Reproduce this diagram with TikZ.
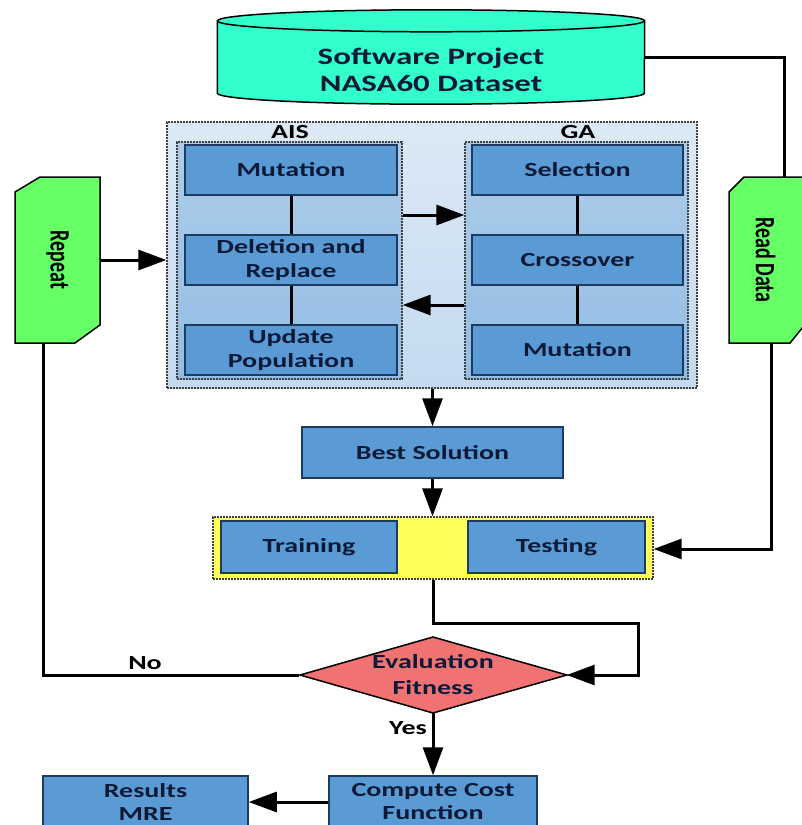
\documentclass[tikz,border=0pt]{standalone}
\usepackage{fontspec}
\setmainfont{Carlito}[FakeStretch=1.4]
\newfontfamily\plainfont{Carlito}
\usetikzlibrary{arrows.meta}
\definecolor{boxblue}{HTML}{5B9BD5}
\definecolor{boxedge}{HTML}{1F3A5F}
\definecolor{txt}{HTML}{0C1A38}
\definecolor{aqua}{HTML}{33FFCC}
\definecolor{lgreen}{HTML}{66FF66}
\definecolor{salmon}{HTML}{F07272}
\definecolor{yel}{HTML}{FFFF5A}
\definecolor{outertop}{HTML}{DCE9F6}
\definecolor{outerbot}{HTML}{C4DAEF}
\definecolor{innertop}{HTML}{ADCDEA}
\definecolor{innerbot}{HTML}{93BDE4}
\begin{document}
\begin{tikzpicture}[x=1pt,y=-1pt,
  box/.style={draw=boxedge, line width=1.5pt, fill=boxblue, text=txt,
    font=\bfseries\fontsize{20}{24}\selectfont, align=center, inner sep=0pt},
  conn/.style={line width=3pt, draw=black},
  arr/.style={conn, -{Triangle[length=28pt,width=20pt]}},
  grp/.style={draw=black!75, dash pattern=on 2pt off 1pt, line width=1.3pt, inner sep=0pt},
  lbl/.style={font=\bfseries\fontsize{20}{24}\selectfont, text=black, inner sep=0pt},
  vtxt/.style={font=\plainfont\bfseries\fontsize{20}{24}\selectfont, text=black, rotate=-90},
]
\useasboundingbox (0,0) rectangle (802,825);

% ---------- cylinder ----------
\node[minimum width=427pt, minimum height=72pt, inner sep=0pt] (db) at (431,57) {};
\path[fill=aqua, draw=black, line width=1.5pt]
  (db.north west) -- (db.south west)
  arc[start angle=180, end angle=360, x radius=213.5pt, y radius=11pt]
  -- (db.north east)
  arc[start angle=0, end angle=180, x radius=213.5pt, y radius=11pt] -- cycle;
\draw[black, line width=1.5pt] (db.north west)
  arc[start angle=180, end angle=360, x radius=213.5pt, y radius=11pt];
\node[font=\bfseries\fontsize{23.5}{27}\selectfont, text=txt, align=center] (dbtext) at (431,70)
  {Software Project\\NASA60 Dataset};

% ---------- AIS / GA group ----------
\node[grp, top color=outertop, bottom color=outerbot, minimum width=530pt, minimum height=266pt] (outer) at (432,255) {};
\node[grp, top color=innertop, bottom color=innerbot, minimum width=225pt, minimum height=237pt] (ais) at (289.5,260.5) {};
\node[grp, top color=innertop, bottom color=innerbot, minimum width=223pt, minimum height=237pt] (ga) at (576.5,260.5) {};
\node[lbl] (aislbl) at (290,132) {AIS};
\node[lbl] (galbl) at (578,132) {GA};

\node[box, minimum width=212pt, minimum height=50pt] (am) at (291,170) {Mutation};
\node[box, minimum width=212pt, minimum height=50pt] (ad) at (291,260) {Deletion and\\Replace};
\node[box, minimum width=212pt, minimum height=50pt] (au) at (291,350) {Update\\Population};
\node[box, minimum width=211pt, minimum height=50pt] (gs) at (577.5,170) {Selection};
\node[box, minimum width=211pt, minimum height=50pt] (gc) at (577.5,260) {Crossover};
\node[box, minimum width=211pt, minimum height=50pt] (gm) at (577.5,350) {Mutation};

\draw[conn] (am) -- (ad);
\draw[conn] (ad) -- (au);
\draw[conn] (gs) -- (gc);
\draw[conn] (gc) -- (gm);
\draw[arr] ([yshift=45.5pt]ais.east) -- ([yshift=45.5pt]ga.west);
\draw[arr] ([yshift=-44.5pt]ga.west) -- ([yshift=-44.5pt]ais.east);

% ---------- Repeat ----------
\node[minimum width=85pt, minimum height=166pt, inner sep=0pt] (rep) at (57.5,260) {};
\path[fill=lgreen, draw=black, line width=1.5pt]
  (15,192) -- (40,177) -- (100,177) -- (100,325) -- (75,343) -- (15,343) -- cycle;
\node[vtxt] (reptext) at (57.5,260) {\scalebox{1}[1.4]{Repeat}};
\draw[arr] (rep.east) -- (rep.east -| outer.west);

% ---------- Read Data ----------
\node[minimum width=73pt, minimum height=166pt, inner sep=0pt] (rd) at (765.5,260) {};
\path[fill=lgreen, draw=black, line width=1.5pt]
  (729,192) -- (744,177) -- (803,177) -- (803,327) -- (790,343) -- (729,343) -- cycle;
\node[vtxt] (rdtext) at (765.5,260) {\scalebox{1}[1.4]{Read Data}};
\coordinate (rdtop) at (784,57);
\draw[conn] (db.east) -- (rdtop) -- (rdtop |- rd.north);

% ---------- Best solution / training-testing ----------
\node[box, minimum width=261pt, minimum height=51pt] (best) at (432.5,452.5) {Best Solution};
\draw[arr] (outer.south -| best.north) -- (best.north);
\node[grp, fill=yel, minimum width=440pt, minimum height=62pt] (yb) at (433,548) {};
\node[box, minimum width=176pt, minimum height=52pt] (train) at (309,547) {Training};
\node[box, minimum width=177pt, minimum height=52pt] (test) at (556.5,547) {Testing};
\draw[arr] (best.south) -- (best.south |- yb.north);

\coordinate (rdb) at (771,549);
\draw[arr] (rdb |- rd.south) -- (rdb) -- (rdb -| yb.east);

% ---------- Evaluation ----------
\path[fill=salmon, draw=black, line width=1.5pt]
  (300,675) -- (433,637) -- (567,675) -- (433,713) -- cycle;
\node[minimum width=267pt, minimum height=76pt, inner sep=0pt, text=txt, align=center,
  font=\bfseries\fontsize{20}{26}\selectfont] (eval) at (433,675) {Evaluation\\Fitness};
\coordinate (bend) at (638,623);
\draw[arr] (yb.south) |- (bend) |- (eval.east);
\draw[conn] ([xshift=-14.5pt]rep.south) |- (eval.west);
\node[lbl] (nolbl) at (145,663) {No};
\node[lbl] (yeslbl) at (408,728) {Yes};

% ---------- bottom ----------
\node[box, minimum width=208pt, minimum height=52pt, font=\bfseries\fontsize{20}{23}\selectfont] (cost) at (433,802) {Compute Cost\\Function};
\node[box, minimum width=205pt, minimum height=52pt, font=\bfseries\fontsize{20}{23}\selectfont] (res) at (145.5,802) {Results\\MRE};
\draw[arr] (eval.south) -- (cost.north);
\draw[arr] (cost.west) -- (res.east);
\end{tikzpicture}
\end{document}
